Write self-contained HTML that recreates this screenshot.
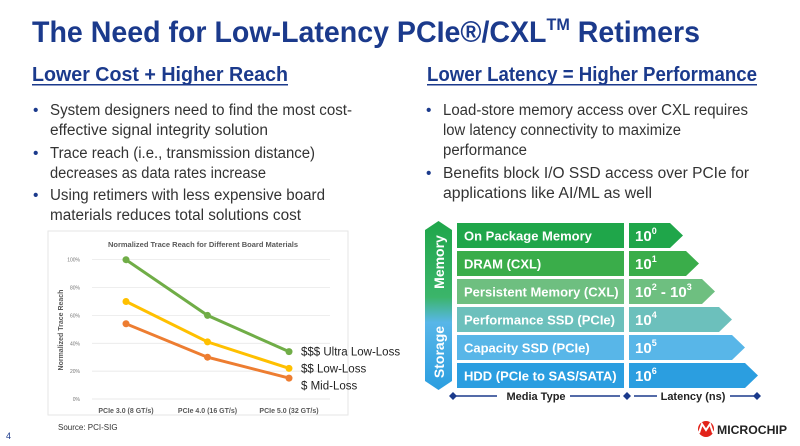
<!DOCTYPE html>
<html><head><meta charset="utf-8"><style>
html,body{margin:0;padding:0;background:#fff;}
svg{display:block;font-family:"Liberation Sans",sans-serif;}
</style></head><body>
<svg width="800" height="446" viewBox="0 0 800 446">
<text x="32" y="42" font-size="30" font-weight="bold" fill="#1b3a8c" textLength="668" lengthAdjust="spacingAndGlyphs">The Need for Low-Latency PCIe®/CXL<tspan font-size="17" dy="-12">TM</tspan><tspan dy="12"> Retimers</tspan></text>

<text x="32" y="81" font-size="20" font-weight="bold" fill="#1b3a8c" textLength="256" lengthAdjust="spacingAndGlyphs">Lower Cost + Higher Reach</text>
<rect x="32" y="84" width="256" height="1.5" fill="#1b3a8c"/>
<text x="427" y="81" font-size="20" font-weight="bold" fill="#1b3a8c" textLength="330" lengthAdjust="spacingAndGlyphs">Lower Latency = Higher Performance</text>
<rect x="427" y="84" width="330" height="1.5" fill="#1b3a8c"/>

<g font-size="15.5" fill="#333">
<text x="33" y="115" fill="#1b3a8c">•</text>
<text x="50" y="115" textLength="302" lengthAdjust="spacingAndGlyphs">System designers need to find the most cost-</text>
<text x="50" y="135" textLength="218" lengthAdjust="spacingAndGlyphs">effective signal integrity solution</text>
<text x="33" y="158" fill="#1b3a8c">•</text>
<text x="50" y="158" textLength="265" lengthAdjust="spacingAndGlyphs">Trace reach (i.e., transmission distance)</text>
<text x="50" y="178" textLength="216" lengthAdjust="spacingAndGlyphs">decreases as data rates increase</text>
<text x="33" y="200" fill="#1b3a8c">•</text>
<text x="50" y="200" textLength="275" lengthAdjust="spacingAndGlyphs">Using retimers with less expensive board</text>
<text x="50" y="220" textLength="251" lengthAdjust="spacingAndGlyphs">materials reduces total solutions cost</text>
</g>
<g font-size="15.5" fill="#333">
<text x="426" y="115" fill="#1b3a8c">•</text>
<text x="443" y="115" textLength="305" lengthAdjust="spacingAndGlyphs">Load-store memory access over CXL requires</text>
<text x="443" y="135" textLength="238" lengthAdjust="spacingAndGlyphs">low latency connectivity to maximize</text>
<text x="443" y="155" textLength="84" lengthAdjust="spacingAndGlyphs">performance</text>
<text x="426" y="178" fill="#1b3a8c">•</text>
<text x="443" y="178" textLength="306" lengthAdjust="spacingAndGlyphs">Benefits block I/O SSD access over PCIe for</text>
<text x="443" y="198" textLength="209" lengthAdjust="spacingAndGlyphs">applications like AI/ML as well</text>
</g>

<rect x="48" y="231" width="300" height="184" fill="none" stroke="#e6e6e6"/>
<text x="203" y="247" font-size="7.5" font-weight="bold" fill="#595959" text-anchor="middle">Normalized Trace Reach for Different Board Materials</text>
<text transform="translate(63,330) rotate(-90)" font-size="7" font-weight="bold" fill="#595959" text-anchor="middle">Normalized Trace Reach</text>
<g id="chart"></g>
<text x="58" y="430" font-size="8" fill="#333">Source: PCI-SIG</text>

<g id="pyramid"></g>

<text x="6" y="439" font-size="9" fill="#1b3a8c">4</text>
<g>
<circle cx="706" cy="429" r="8" fill="#e2231a"/>
<path d="M699 433 L702 424 L706 430 L710 424 L713 433" stroke="#fff" stroke-width="2" fill="none"/>
<text x="717" y="434" font-size="12" font-weight="bold" fill="#222" textLength="70" lengthAdjust="spacingAndGlyphs">MICROCHIP</text>
</g>
</svg>
<script>
const categories=["PCIe 3.0 (8 GT/s)","PCIe 4.0 (16 GT/s)","PCIe 5.0 (32 GT/s)"];
const ultraLowLoss=[100,60,34];
const lowLoss=[70,41,22];
const midLoss=[54,30,15];
const yTicks=[0,20,40,60,80,100];
const seriesLabels=["$$$ Ultra Low-Loss","$$ Low-Loss","$ Mid-Loss"];
const NS="http://www.w3.org/2000/svg";
const g=document.getElementById('chart');
function mk(t,a,p){const e=document.createElementNS(NS,t);for(const k in a)e.setAttribute(k,a[k]);(p||g).appendChild(e);return e;}
const x=i=>126+i*81.5;
const y=v=>399-v*1.393;
yTicks.forEach(v=>{
 const l=mk('line',{x1:92,x2:330,y1:y(v),y2:y(v),stroke:'#e3e3e3','stroke-width':0.7});
 
 
 const t=mk('text',{x:80,y:y(v)+2,'font-size':5,fill:'#777','text-anchor':'end'});
 t.textContent=v+'%';
 
 
});
categories.forEach((c,i)=>{
 const t=mk('text',{x:x(i),y:413,'font-size':7,'font-weight':'bold',fill:'#595959','text-anchor':'middle'});
 t.textContent=c;
 
 
});
let prevLabelY=-1e9;
[[ultraLowLoss,'#70ad47'],[lowLoss,'#ffc000'],[midLoss,'#ed7d31']].forEach(([s,col],k)=>{
 const pl=mk('polyline',{points:s.map((v,i)=>x(i)+','+y(v)).join(' '),fill:'none',stroke:col,'stroke-width':3});
 
 
 s.forEach((v,i)=>{
  const c=mk('circle',{cx:x(i),cy:y(v),r:3.5,fill:col});
  
  
 });
 const ly=Math.max(y(s[2])+4,prevLabelY+17);
 prevLabelY=ly;
 const lab=mk('text',{x:301,y:ly,'font-size':11.5,fill:'#222'});
 lab.textContent=seriesLabels[k];
 
 
});

// pyramid
const p=document.getElementById('pyramid');
const rows=[["On Package Memory","0","#1fa64a",683],["DRAM (CXL)","1","#3aad4a",699],["Persistent Memory (CXL)","2 - 10|3","#6ebf80",715],["Performance SSD (PCIe)","4","#6cc0bc",732],["Capacity SSD (PCIe)","5","#58b6e8",745],["HDD (PCIe to SAS/SATA)","6","#2b9ee0",758]];
const defs=mk('defs',{},p);
const gr=mk('linearGradient',{id:'sb',x1:0,y1:0,x2:0,y2:1},defs);
mk('stop',{offset:'0','stop-color':'#1fa64a'},gr);mk('stop',{offset:'0.45','stop-color':'#3bb56a'},gr);mk('stop',{offset:'0.6','stop-color':'#58b6e8'},gr);mk('stop',{offset:'1','stop-color':'#2b9ee0'},gr);
const sb=mk('polygon',{points:'425,230 438.5,221 452,230 452,381 438.5,390 425,381',fill:'url(#sb)'},p);


const m=mk('text',{transform:'translate(444,262) rotate(-90)','font-size':14,'font-weight':'bold',fill:'#fff','text-anchor':'middle'},p);m.textContent='Memory';


const st=mk('text',{transform:'translate(444,352) rotate(-90)','font-size':14,'font-weight':'bold',fill:'#fff','text-anchor':'middle'},p);st.textContent='Storage';


rows.forEach((r,i)=>{
 const top=223+i*28,h=25;
 const b=mk('rect',{x:457,y:top,width:167,height:h,fill:r[2]},p);
 
 
 const a=mk('polygon',{points:`629,${top} ${r[3]-13},${top} ${r[3]},${top+h/2} ${r[3]-13},${top+h} 629,${top+h}`,fill:r[2]},p);
 
 
 const t=mk('text',{x:464,y:top+17.5,'font-size':13,'font-weight':'bold',fill:'#fff'},p);t.textContent=r[0];
 
 
 const lt=mk('text',{x:635,y:top+18,'font-size':15,'font-weight':'bold',fill:'#fff'},p);
 const parts=r[1].split('|');
 lt.innerHTML='10<tspan font-size="9" dy="-7">'+parts[0].replace(' - 10','')+'</tspan>'+(parts.length>1?'<tspan dy="7"> - 10</tspan><tspan font-size="9" dy="-7">'+parts[1]+'</tspan>':'');
 
 
});
[[453,497],[570,620],[634,657],[730,757]].forEach(s=>{
 const l=mk('line',{x1:s[0],x2:s[1],y1:396,y2:396,stroke:'#1b3a8c','stroke-width':1.5},p);
 
 
});
[453,627,757].forEach(cx=>{
 const d=mk('polygon',{points:`${cx-4},396 ${cx},392 ${cx+4},396 ${cx},400`,fill:'#1b3a8c'},p);
 
 
});
const mt=mk('text',{x:536,y:400,'font-size':11,'font-weight':'bold',fill:'#222','text-anchor':'middle'},p);mt.textContent='Media Type';


const la=mk('text',{x:693,y:400,'font-size':11,'font-weight':'bold',fill:'#222','text-anchor':'middle'},p);la.textContent='Latency (ns)';


</script>
</body></html>
